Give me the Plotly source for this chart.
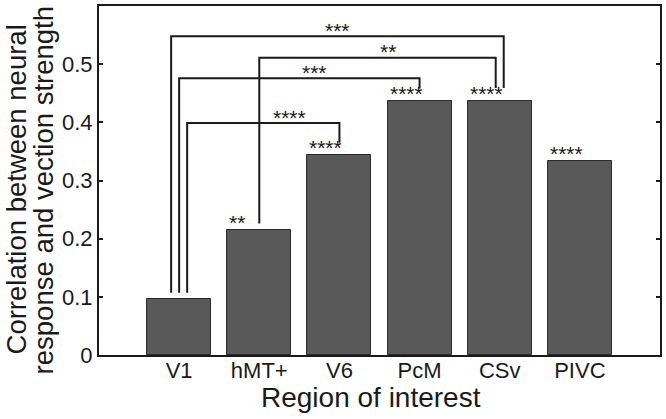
import plotly.graph_objects as go

# ── Data ──────────────────────────────────────────────────────────
regions = ["V1", "hMT+", "V6", "PcM", "CSv", "PIVC"]
correlation = [0.096, 0.215, 0.343, 0.436, 0.437, 0.334]
bar_stars = ["", "**", "****", "****", "****", "****"]

# pairwise comparisons: from-region, to-region, bracket height, label
bracket_from = ["V1", "hMT+", "V1", "V1"]
bracket_to = ["CSv", "CSv", "PcM", "V6"]
bracket_top = [0.548, 0.511, 0.476, 0.399]
bracket_stars = ["***", "**", "***", "****"]
bracket_label_x = [2.80, 3.48, 2.51, 2.15]

y_title = ["Correlation between neural", "response and vection strength"]

# ── Style ─────────────────────────────────────────────────────────
INK = "#1a1a1a"
BAR = "#595959"
FONT = "Liberation Sans, Arial, Helvetica, sans-serif"
BAR_W = 0.8
from_off = [-0.1, 0.0, 0.0, 0.1]
to_off = [0.05, -0.05, 0.0, 0.0]

pos = {name: i + 1 for i, name in enumerate(regions)}
val = dict(zip(regions, correlation))

fig = go.Figure()
fig.add_trace(go.Bar(
    x=[pos[r] for r in regions], y=correlation, width=BAR_W,
    marker=dict(color=BAR, line=dict(color="#2b2b2b", width=1)),
    hoverinfo="skip",
))

for f, t, top, fo, to in zip(bracket_from, bracket_to, bracket_top, from_off, to_off):
    x0, x1 = pos[f] + fo, pos[t] + to
    fig.add_trace(go.Scatter(
        x=[x0, x0, x1, x1],
        y=[val[f] + 0.011, top, top, val[t] + 0.022],
        mode="lines", line=dict(color=INK, width=2),
        hoverinfo="skip",
    ))

for r, s in zip(regions, bar_stars):
    if s:
        fig.add_annotation(x=pos[r] - BAR_W / 2, y=val[r] + 0.013, text=s,
                           xanchor="left", yanchor="middle", showarrow=False,
                           font=dict(size=21, color=INK))

for lx, top, s in zip(bracket_label_x, bracket_top, bracket_stars):
    fig.add_annotation(x=lx, y=top + 0.01, text=s,
                       xanchor="left", yanchor="middle", showarrow=False,
                       font=dict(size=21, color=INK))

# axis titles as paper annotations so they can sit where the original puts them
fig.add_annotation(xref="paper", yref="paper", x=0.485, y=-0.122,
                   text="Region of interest", showarrow=False,
                   xanchor="center", yanchor="middle", font=dict(size=28, color=INK))
for line, xp in zip(y_title, [-0.147, -0.099]):
    fig.add_annotation(xref="paper", yref="paper", x=xp, y=0.473,
                       text=line, textangle=-90, showarrow=False,
                       xanchor="center", yanchor="middle",
                       font=dict(size=27.5, color=INK))

fig.update_layout(
    width=666, height=419,
    margin=dict(l=99, r=6, t=4, b=64),
    paper_bgcolor="white", plot_bgcolor="white",
    font=dict(family=FONT, color=INK, size=22),
    showlegend=False, bargap=0,
)
fig.update_xaxes(
    range=[0, 7], tickvals=[pos[r] for r in regions], ticktext=regions,
    ticks="", showgrid=False, zeroline=False, ticklabelstandoff=-5,
    showline=True, linecolor=INK, linewidth=2, mirror=True,
)
fig.update_yaxes(
    range=[0, 0.6], tickvals=[0, 0.1, 0.2, 0.3, 0.4, 0.5],
    ticktext=["0", "0.1", "0.2", "0.3", "0.4", "0.5"],
    ticks="inside", ticklen=4, tickwidth=2, tickcolor=INK,
    showgrid=False, zeroline=False,
    showline=True, linecolor=INK, linewidth=2, mirror="allticks",
)

# page body margin would push the 666x419 figure out of the window
fig.write_html("out.html", config={"displayModeBar": False},
               post_script="document.body.style.margin='0';")
